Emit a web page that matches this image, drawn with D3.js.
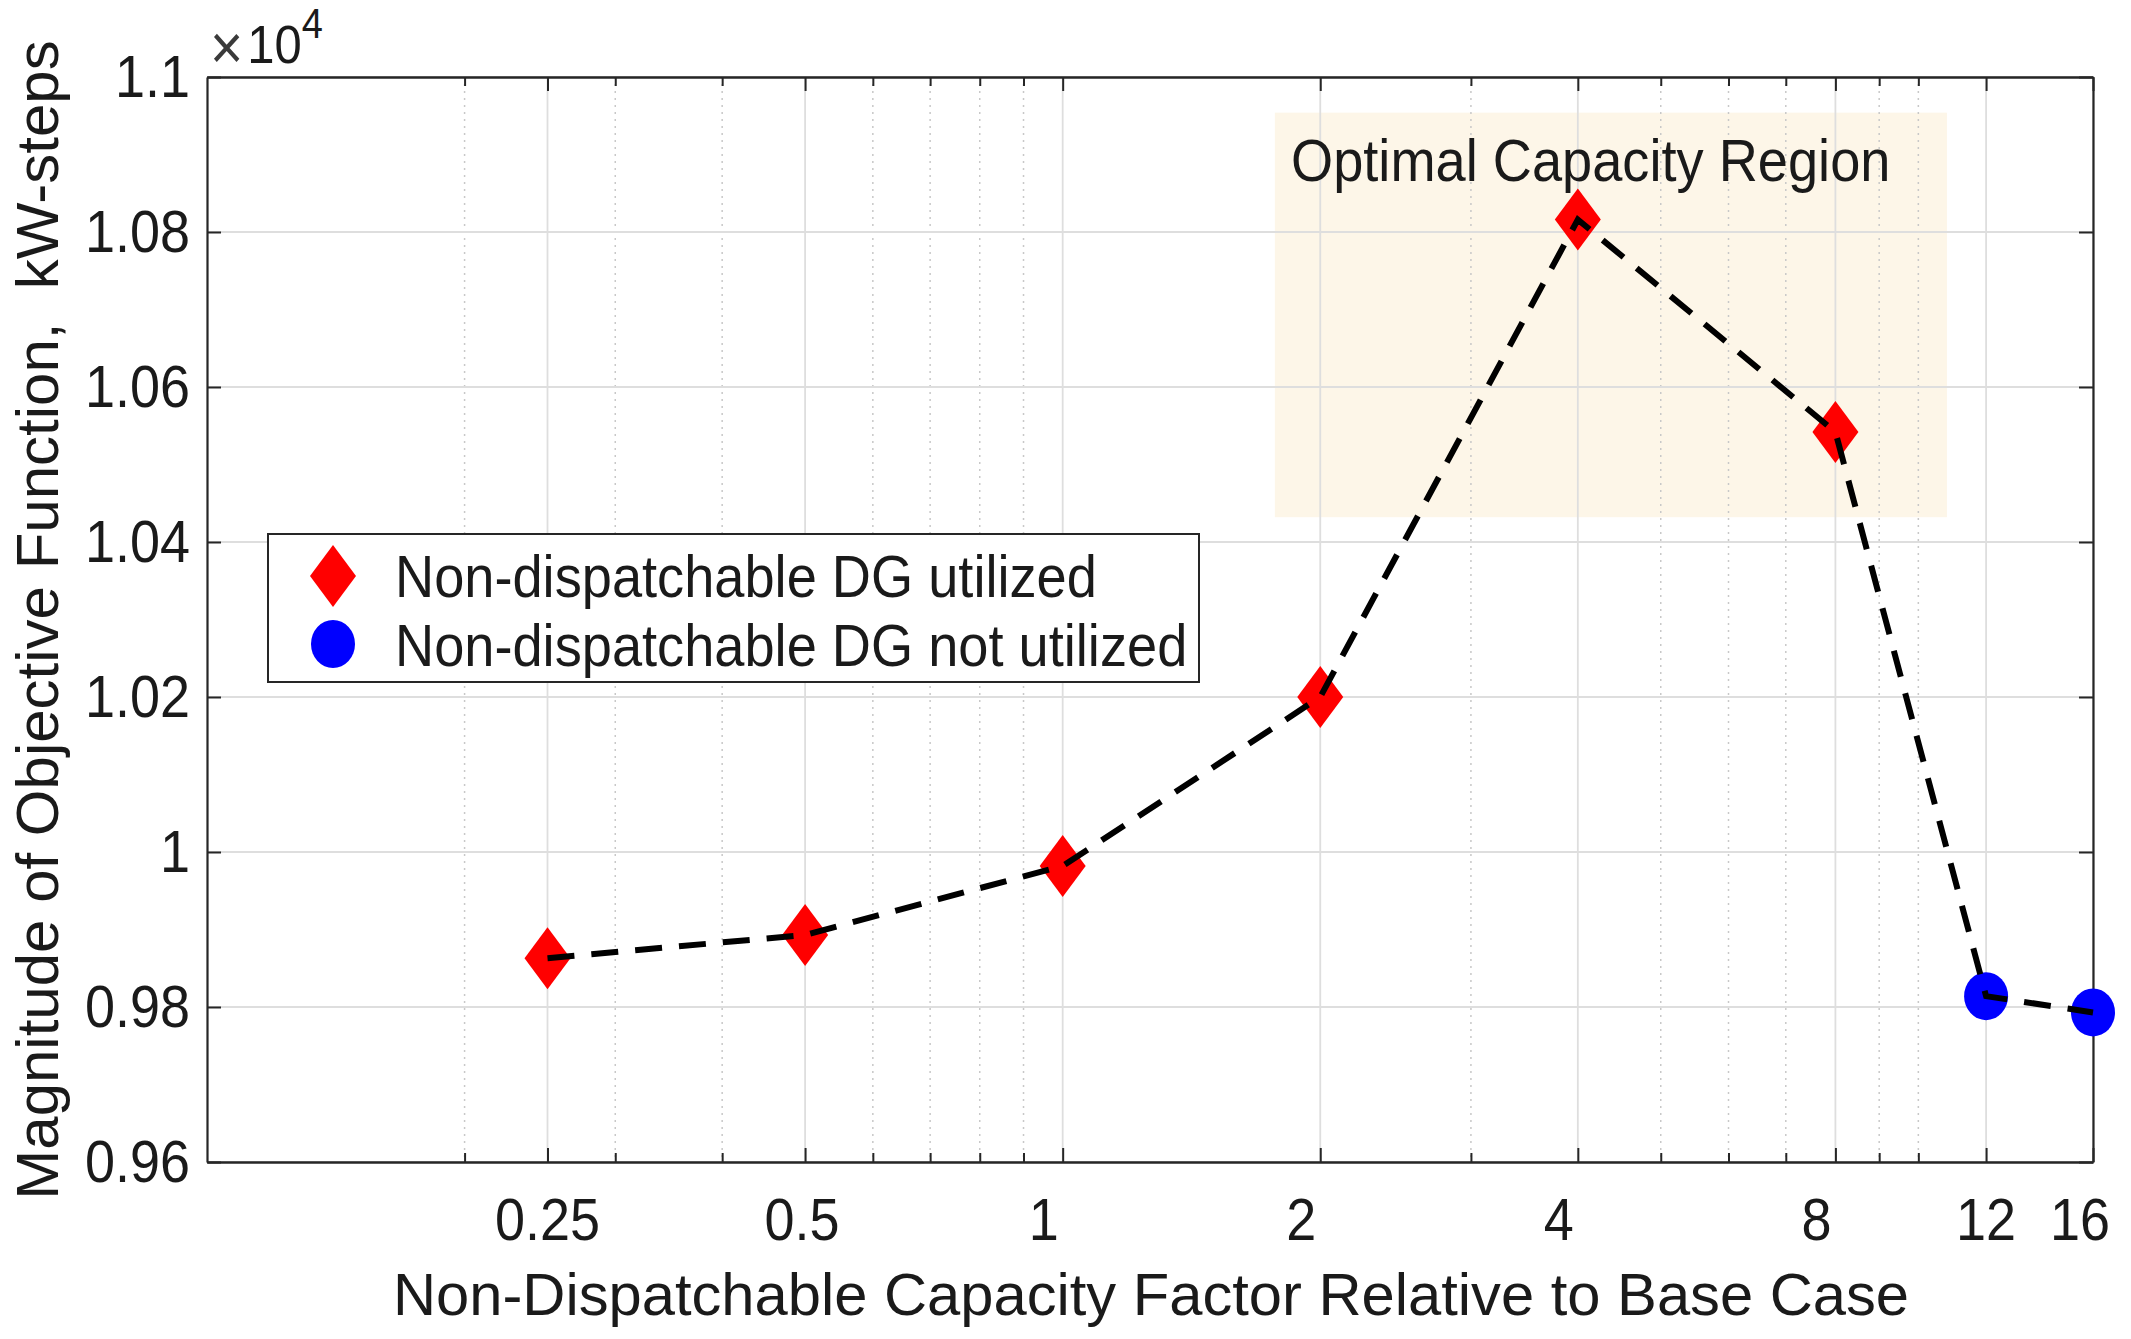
<!DOCTYPE html>
<html><head><meta charset="utf-8">
<script src="https://cdn.jsdelivr.net/npm/d3@7"></script>
<style>
body{margin:0;background:#fff}
svg{display:block}
text{font-family:"Liberation Sans", Arial, Helvetica, sans-serif;fill:#1a1a1a;white-space:pre}
</style>
</head><body>
<svg id="chart" width="2131" height="1339"></svg>
<script>
// ---- data ----
const capacityFactors = [0.25, 0.5, 1, 2, 4, 8, 12, 16];
const objectiveValues = [9863, 9893, 9982, 10200, 10816, 10542, 9814, 9793];
const dgUtilized = [true, true, true, true, true, true, false, false];
const xTickValues = [0.25, 0.5, 1, 2, 4, 8, 12, 16];
const xTickLabels = ["0.25", "0.5", "1", "2", "4", "8", "12", "16"];
const xMinorTicks = [0.2, 0.3, 0.4, 0.6, 0.7, 0.8, 0.9, 3, 5, 6, 7, 9, 10];
const yTickValues = [9600, 9800, 10000, 10200, 10400, 10600, 10800, 11000];
const yTickLabels = ["0.96", "0.98", "1", "1.02", "1.04", "1.06", "1.08", "1.1"];
const regionX = [1.77, 10.8];
const regionY = [10432, 10954];
const regionLabel = "Optimal Capacity Region";
const legendLabels = ["Non-dispatchable DG utilized", "Non-dispatchable DG not utilized"];
const xLabel = "Non-Dispatchable Capacity Factor Relative to Base Case";
const yLabel = "Magnitude of Objective Function,  kW-steps";

// ---- layout ----
const L = 207, R = 2093, T = 77, B = 1162;
const SY = 1.1; // vertical text stretch
const svg = d3.select("#chart");
const x = d3.scaleLog().domain([0.1, 16]).range([L, R]);
const y = d3.scaleLinear().domain([9600, 11000]).range([B, T]);
const axisColor = "#262626";

function stretchText(sel, px, py) {
  sel.attr("transform", `translate(${px},${py}) scale(1,${SY})`).attr("x", 0).attr("y", 0);
}

// region
svg.append("rect")
  .attr("x", x(regionX[0])).attr("y", y(regionY[1]))
  .attr("width", x(regionX[1]) - x(regionX[0]))
  .attr("height", y(regionY[0]) - y(regionY[1]))
  .attr("fill", "#fdf6e8");

// grid
const grid = svg.append("g");
grid.selectAll(".minor").data(xMinorTicks).join("line")
  .attr("x1", d => x(d)).attr("x2", d => x(d)).attr("y1", T).attr("y2", B)
  .attr("stroke", "#c8c8c8").attr("stroke-width", 1.5).attr("stroke-dasharray", "2,5");
grid.selectAll(".majorx").data(xTickValues).join("line")
  .attr("x1", d => x(d)).attr("x2", d => x(d)).attr("y1", T).attr("y2", B)
  .attr("stroke", "#dedede").attr("stroke-width", 1.8);
grid.selectAll(".majory").data(yTickValues).join("line")
  .attr("x1", L).attr("x2", R).attr("y1", d => y(d)).attr("y2", d => y(d))
  .attr("stroke", "#dedede").attr("stroke-width", 1.8);

// axes (ticks inward)
function styleAxis(g) {
  g.selectAll("path.domain").attr("stroke", axisColor).attr("stroke-width", 2.2);
  g.selectAll(".tick line").attr("stroke", axisColor).attr("stroke-width", 2);
  g.selectAll(".tick text").remove();
}
const majLen = 14, minLen = 9;
svg.append("g").attr("transform", `translate(0,${B})`)
  .call(d3.axisBottom(x).tickValues(xTickValues).tickSizeInner(-majLen).tickSizeOuter(0)).call(styleAxis);
svg.append("g").attr("transform", `translate(0,${B})`)
  .call(d3.axisBottom(x).tickValues(xMinorTicks).tickSizeInner(-minLen).tickSizeOuter(0)).call(styleAxis);
svg.append("g").attr("transform", `translate(0,${T})`)
  .call(d3.axisTop(x).tickValues(xTickValues).tickSizeInner(-majLen).tickSizeOuter(0)).call(styleAxis);
svg.append("g").attr("transform", `translate(0,${T})`)
  .call(d3.axisTop(x).tickValues(xMinorTicks).tickSizeInner(-minLen).tickSizeOuter(0)).call(styleAxis);
svg.append("g").attr("transform", `translate(${L},0)`)
  .call(d3.axisLeft(y).tickValues(yTickValues).tickSizeInner(-majLen).tickSizeOuter(0)).call(styleAxis);
svg.append("g").attr("transform", `translate(${R},0)`)
  .call(d3.axisRight(y).tickValues(yTickValues).tickSizeInner(-majLen).tickSizeOuter(0)).call(styleAxis);

// tick labels (short labels sit slightly left of their tick, as in the source)
const tickFont = 54;
svg.append("g").selectAll("text").data(xTickValues).join("text")
  .attr("text-anchor", "middle").attr("font-size", tickFont)
  .text((d, i) => xTickLabels[i])
  .each(function(d, i) {
    const lab = xTickLabels[i];
    const shift = lab.length === 1 ? -19 : (i === xTickLabels.length - 1 ? -13 : (lab.length === 3 ? -3 : 0));
    stretchText(d3.select(this), x(d) + shift, 1240);
  });
svg.append("g").selectAll("text").data(yTickValues).join("text")
  .attr("text-anchor", "end").attr("font-size", tickFont)
  .text((d, i) => yTickLabels[i])
  .each(function(d) { stretchText(d3.select(this), 190, y(d) + 20); });

// exponent label
const ex = svg.append("text").attr("font-size", 49);
ex.append("tspan").attr("font-size", 57).attr("fill", "#3a3a3a").attr("dy", 5).text("×");
ex.append("tspan").attr("dx", 4).attr("dy", -5).text("10");
ex.append("tspan").attr("font-size", 38).attr("dy", -23).text("4");
stretchText(ex, 210, 63);

// axis labels
svg.append("text").attr("text-anchor", "middle").attr("font-size", 59.7)
  .attr("x", 1151).attr("y", 1315).text(xLabel);
svg.append("text").attr("text-anchor", "middle").attr("font-size", 60)
  .attr("transform", `translate(58,${620}) rotate(-90)`).text(yLabel);

// markers
const diamond = (cx, cy) => `M${cx},${cy - 31}L${cx + 23},${cy}L${cx},${cy + 31}L${cx - 23},${cy}Z`;
const pts = capacityFactors.map((c, i) => ({c, v: objectiveValues[i], u: dgUtilized[i]}));
svg.append("g").selectAll("path").data(pts.filter(d => d.u)).join("path")
  .attr("d", d => diamond(x(d.c), y(d.v))).attr("fill", "#ff0000");
svg.append("g").selectAll("ellipse").data(pts.filter(d => !d.u)).join("ellipse")
  .attr("cx", d => x(d.c)).attr("cy", d => y(d.v)).attr("rx", 22).attr("ry", 24).attr("fill", "#0000ff");

// dashed line
svg.append("path").datum(pts)
  .attr("d", d3.line().x(d => x(d.c)).y(d => y(d.v)))
  .attr("fill", "none").attr("stroke", "#000").attr("stroke-width", 6)
  .attr("stroke-dasharray", "27,17");

// region label
const rl = svg.append("text").attr("font-size", 54.2).text(regionLabel);
stretchText(rl, 1291, 181);

// legend
const lg = svg.append("g");
lg.append("rect").attr("x", 268).attr("y", 534).attr("width", 931).attr("height", 148)
  .attr("fill", "#fff").attr("stroke", axisColor).attr("stroke-width", 2);
lg.append("path").attr("d", diamond(333, 576)).attr("fill", "#ff0000");
lg.append("ellipse").attr("cx", 333).attr("cy", 644).attr("rx", 22).attr("ry", 24).attr("fill", "#0000ff");
legendLabels.forEach((t, i) => {
  const tx = lg.append("text").attr("font-size", 54.2).text(t);
  stretchText(tx, 395, 577 + i * 69 + 20);
});
</script>
</body></html>
